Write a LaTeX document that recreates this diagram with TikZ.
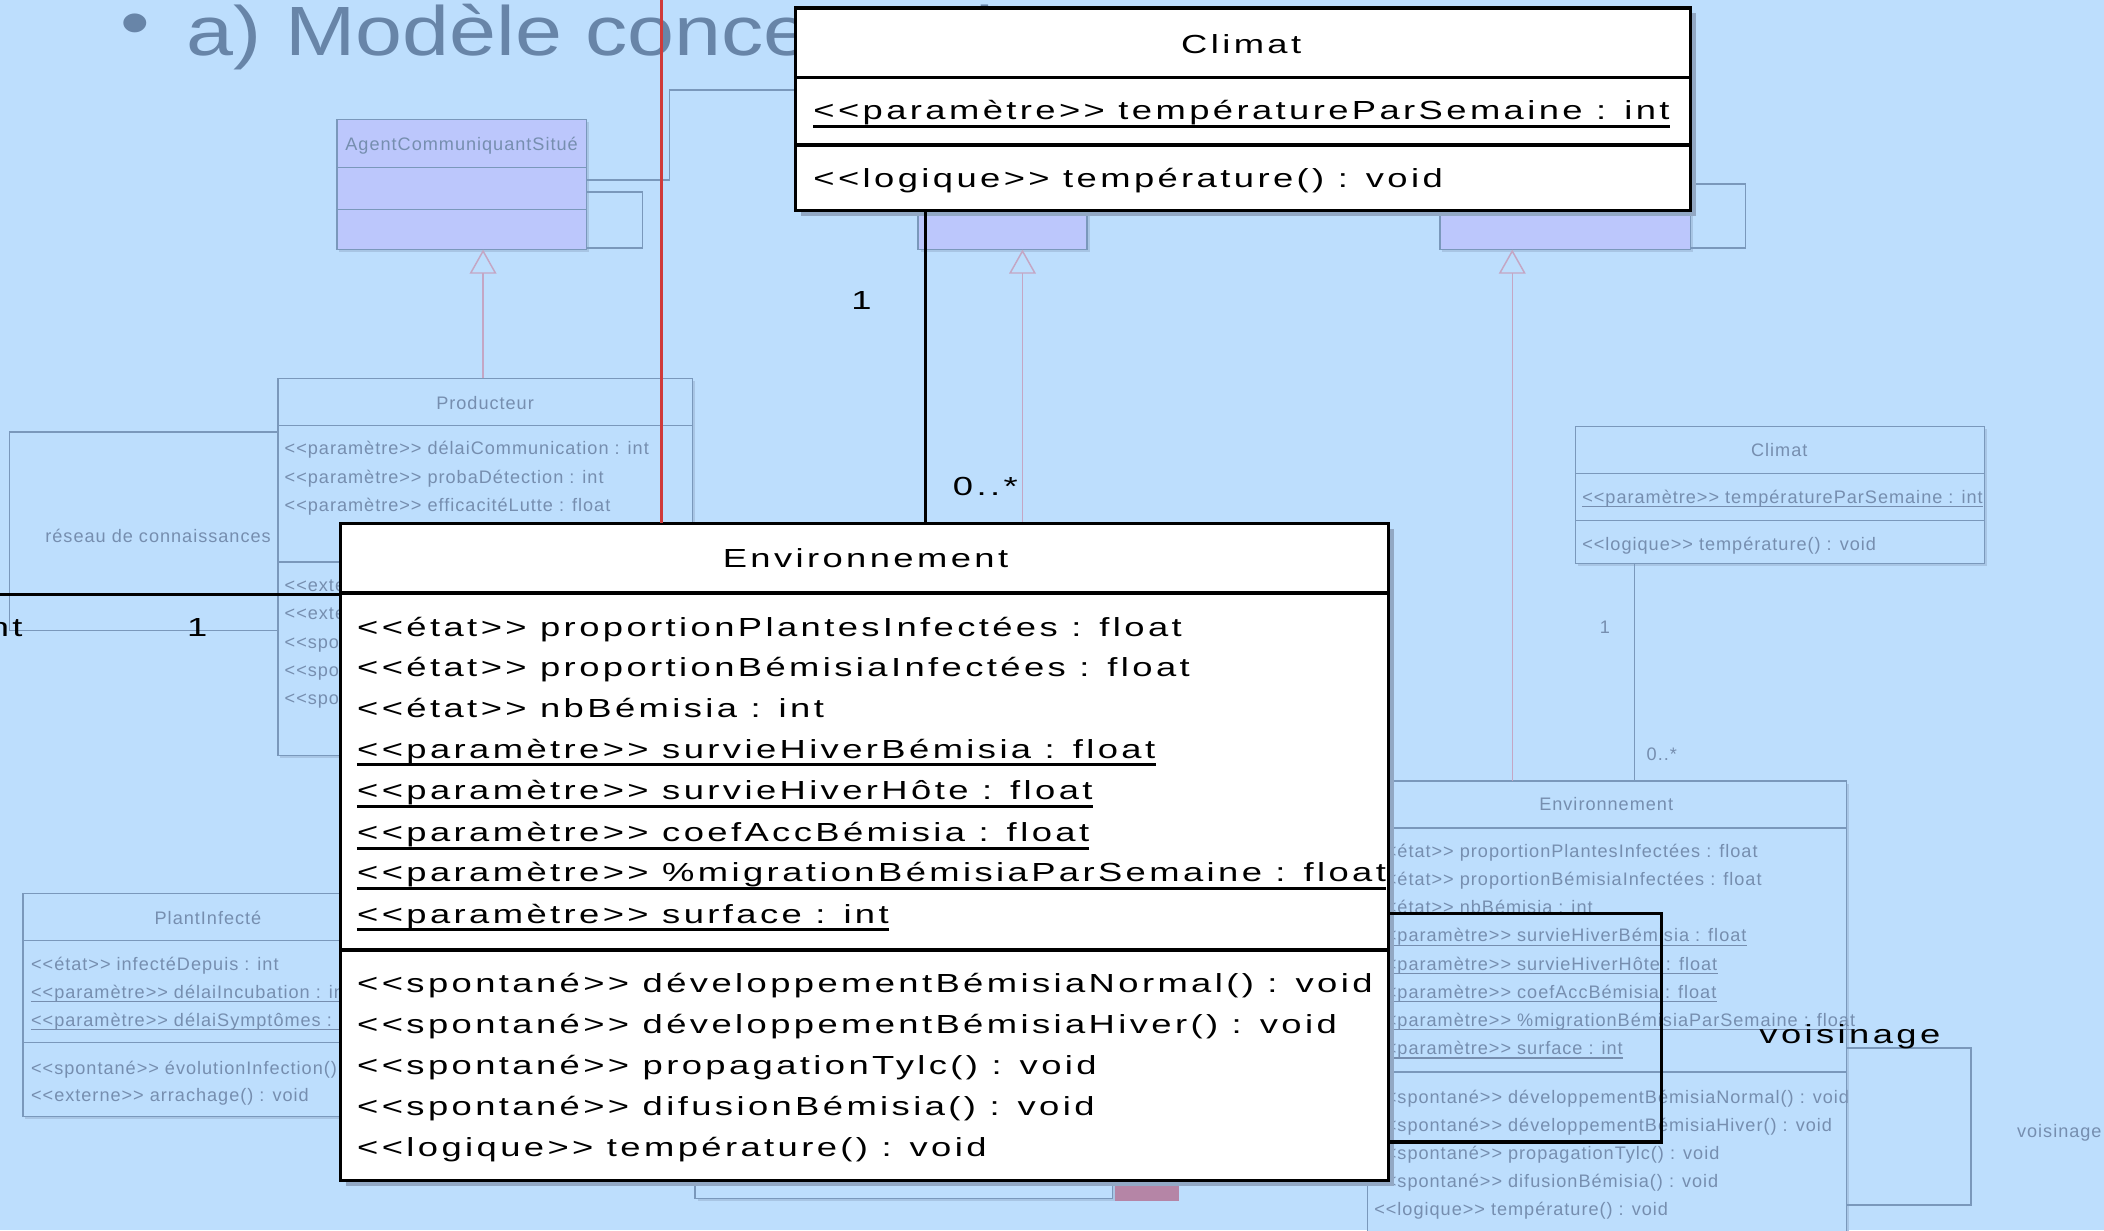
\documentclass[tikz,border=0pt]{standalone}
\usepackage{fontspec}
\setmainfont{Liberation Sans}
\newfontfamily\titlefont[FakeStretch=1.21]{Liberation Sans}
\newfontfamily\ovfont[FakeStretch=1.39,LetterSpace=13]{Liberation Sans}
\newfontfamily\fdfont[LetterSpace=5.5]{Liberation Sans}
\usetikzlibrary{calc,arrows.meta,shadows}

\definecolor{bgblue}{RGB}{189,222,253}
\definecolor{titlec}{RGB}{104,133,168}
\definecolor{fline}{RGB}{122,152,187}
\definecolor{ftext}{RGB}{118,142,175}
\definecolor{lavender}{RGB}{188,199,252}
\definecolor{genc}{RGB}{196,166,196}
\definecolor{fshadow}{RGB}{168,197,228}
\definecolor{oshadow}{RGB}{146,168,196}
\definecolor{redline}{RGB}{208,58,58}
\definecolor{pinkblk}{RGB}{181,133,166}

\tikzset{
  fbox/.style={draw=fline, fill=bgblue, line width=1.1pt, inner sep=0pt, outer sep=0pt,
    anchor=north west, rectangle,
    drop shadow={shadow xshift=2pt, shadow yshift=-2pt, fill=fshadow, opacity=1}},
  fsep/.style={draw=fline, line width=1.1pt},
  fconn/.style={draw=fline, line width=1.1pt},
  genline/.style={draw=genc, line width=1.1pt,
    -{Triangle[open, width=20pt, length=18pt, line width=1.1pt]}},
  ftxt/.style={inner sep=0pt, anchor=base west, text=ftext,
    font=\fdfont\fontsize{13.5}{14}\selectfont},
  ful/.style={draw=ftext, line width=0.9pt},
  fultxt/.style={ftxt, append after command={([yshift=-2.5pt]\tikzlastnode.base west)
    edge[ful] ([yshift=-2.5pt]\tikzlastnode.base east)}},
  obox/.style={draw=black, fill=white, line width=2.4pt, inner sep=0pt, outer sep=0pt,
    anchor=north west, rectangle,
    drop shadow={shadow xshift=4pt, shadow yshift=-4pt, fill=oshadow, opacity=1}},
  osep/.style={draw=black, line width=2.4pt},
  oconn/.style={draw=black, line width=2.4pt},
  redl/.style={draw=redline, line width=2.3pt},
  otxt/.style={inner sep=0pt, anchor=base west, text=black,
    font=\ovfont\fontsize{19.5}{20}\selectfont},
  oul/.style={draw=black, line width=2.2pt},
  oultxt/.style={otxt, append after command={([yshift=-5pt]\tikzlastnode.base west)
    edge[oul] ([yshift=-5pt]\tikzlastnode.base east)}},
  titletxt/.style={inner sep=0pt, text=titlec, font=\titlefont\fontsize{52}{52}\selectfont}
}

\begin{document}
\begin{tikzpicture}[x=1pt,y=-1pt]
\useasboundingbox (0,0) rectangle (1568,917);
\clip (0,0) rectangle (1568,917);
\fill[bgblue] (0,0) rectangle (1568,917);

% ---------- slide heading ----------
\node[titletxt, anchor=base] (bullet) at (101,35) {•};
\node[titletxt, anchor=base west] (title) at (139,41) {a) Modèle conceptuel};

% ---------- class diagram (background layer) ----------
% hidden source of the middle inheritance line
\coordinate (genmidsrc) at (762,395);

% classes
\node[fbox, fill=lavender, minimum width=186pt, minimum height=97pt] (agent) at (251,89) {};
\draw[fsep] ($(agent.north west)+(0,36)$) -- ($(agent.north east)+(0,36)$);
\draw[fsep] ($(agent.north west)+(0,67)$) -- ($(agent.north east)+(0,67)$);
\node[ftxt, anchor=base] (agentT) at (344,112) {AgentCommuniquantSitué};

\node[fbox, fill=lavender, minimum width=126pt, minimum height=86pt] (midbox) at (684,100) {};
\node[fbox, fill=lavender, minimum width=187pt, minimum height=86pt] (rbox) at (1073,100) {};

\node[fbox, minimum width=309pt, minimum height=281pt] (prod) at (207,282) {};
\draw[fsep] ($(prod.north west)+(0,35)$) -- ($(prod.north east)+(0,35)$);
\draw[fsep] ($(prod.north west)+(0,137)$) -- ($(prod.north east)+(0,137)$);
\node[ftxt, anchor=base] (prodT) at (361.5,305) {Producteur};
\node[ftxt] (prodA1) at (212,339) {<<paramètre>> délaiCommunication : int};
\node[ftxt] (prodA2) at (212,360) {<<paramètre>> probaDétection : int};
\node[ftxt] (prodA3) at (212,381) {<<paramètre>> efficacitéLutte : float};
\node[ftxt] (prodO1) at (212,441) {<<externe>>};
\node[ftxt] (prodO2) at (212,462) {<<externe>>};
\node[ftxt] (prodO3) at (212,483) {<<spontané>>};
\node[ftxt] (prodO4) at (212,504) {<<spontané>>};
\node[ftxt] (prodO5) at (212,525) {<<spontané>>};

\node[fbox, minimum width=300pt, minimum height=166pt] (plant) at (17,666) {};
\draw[fsep] ($(plant.north west)+(0,35)$) -- ($(plant.north east)+(0,35)$);
\draw[fsep] ($(plant.north west)+(0,111)$) -- ($(plant.north east)+(0,111)$);
\node[ftxt, anchor=base] (plantT) at (155,689) {PlantInfecté};
\node[ftxt] (plantA1) at (23,723) {<<état>> infectéDepuis : int};
\node[fultxt] (plantA2) at (23,744) {<<paramètre>> délaiIncubation : int};
\node[fultxt] (plantA3) at (23,765) {<<paramètre>> délaiSymptômes : int};
\node[ftxt] (plantO1) at (23,801) {<<spontané>> évolutionInfection() : void};
\node[ftxt] (plantO2) at (23,821) {<<externe>> arrachage() : void};

\fill[pinkblk] (756,880) rectangle (879,895);
\node[fbox, minimum width=311pt, minimum height=93pt] (botbox) at (518,800) {};

\node[fbox, minimum width=305pt, minimum height=102pt] (sclim) at (1174,318) {};
\draw[fsep] ($(sclim.north west)+(0,35)$) -- ($(sclim.north east)+(0,35)$);
\draw[fsep] ($(sclim.north west)+(0,70)$) -- ($(sclim.north east)+(0,70)$);
\node[ftxt, anchor=base] (sclimT) at (1326,340) {Climat};
\node[fultxt] (sclimA) at (1179,375) {<<paramètre>> températureParSemaine : int};
\node[ftxt] (sclimO) at (1179,410) {<<logique>> température() : void};

\node[fbox, minimum width=357pt, minimum height=400pt] (senv) at (1019,582) {};
\draw[fsep] ($(senv.north west)+(0,35)$) -- ($(senv.north east)+(0,35)$);
\draw[fsep] ($(senv.north west)+(0,217)$) -- ($(senv.north east)+(0,217)$);
\node[ftxt, anchor=base] (senvT) at (1197,604) {Environnement};
\node[ftxt] (senvA1) at (1024,639) {<<état>> proportionPlantesInfectées : float};
\node[ftxt] (senvA2) at (1024,660) {<<état>> proportionBémisiaInfectées : float};
\node[ftxt] (senvA3) at (1024,681) {<<état>> nbBémisia : int};
\node[fultxt] (senvA4) at (1024,702) {<<paramètre>> survieHiverBémisia : float};
\node[fultxt] (senvA5) at (1024,723) {<<paramètre>> survieHiverHôte : float};
\node[fultxt] (senvA6) at (1024,744) {<<paramètre>> coefAccBémisia : float};
\node[fultxt] (senvA7) at (1024,765) {<<paramètre>> \%migrationBémisiaParSemaine : float};
\node[fultxt] (senvA8) at (1024,786) {<<paramètre>> surface : int};
\node[ftxt] (senvO1) at (1024,822) {<<spontané>> développementBémisiaNormal() : void};
\node[ftxt] (senvO2) at (1024,843) {<<spontané>> développementBémisiaHiver() : void};
\node[ftxt] (senvO3) at (1024,864) {<<spontané>> propagationTylc() : void};
\node[ftxt] (senvO4) at (1024,885) {<<spontané>> difusionBémisia() : void};
\node[ftxt] (senvO5) at (1024,906) {<<logique>> température() : void};

% associations and inheritance (background layer)
\draw[fconn] ($(agent.north east)+(0,54)$) -- ++(42,0) |- ($(agent.north east)+(0,96)$);
\draw[fconn] ($(agent.north east)+(0,45)$) -- ++(62,0) |- ($(midbox.north west)+(0,-33)$);
\draw[fconn] ($(rbox.north east)+(0,37)$) -- ++(41,0) |- ($(rbox.north east)+(0,85)$);
\draw[fconn] ($(prod.north west)+(0,40)$) -- ++(-200,0) |- ($(prod.north west)+(0,188)$);
\node[ftxt, anchor=base east] (reseau) at (202,404) {réseau de connaissances};
\draw[fconn] ($(sclim.south west)+(44,0)$) -- ($(senv.north west)+(199,0)$);
\node[ftxt, anchor=base] (mult1) at (1196,472) {1};
\node[ftxt] (mult2) at (1227,567) {0..*};
\draw[fconn] ($(senv.north east)+(0,199)$) -- ++(93,0) |- ($(senv.north east)+(0,316)$);
\node[ftxt] (voisF) at (1503,848) {voisinage};

\draw[genline] ($(prod.north west)+(153,0)$) -- ($(agent.south west)+(109,0)$);
\draw[genline] (genmidsrc) -- ($(midbox.south west)+(78,0)$);
\draw[genline] ($(senv.north west)+(108,0)$) -- ($(rbox.south west)+(54,0)$);

% ---------- enlarged view (foreground layer) ----------
\coordinate (redtop) at (493,-5);
\coordinate (leftend) at (-5,443);

\node[obox, minimum width=667pt, minimum height=151pt] (climbox) at (593,6) {};
\draw[osep] ($(climbox.north west)+(0,52)$) -- ($(climbox.north east)+(0,52)$);
\draw[osep] ($(climbox.north west)+(0,102)$) -- ($(climbox.north east)+(0,102)$);
\node[otxt, anchor=base] (climT) at (925,40) {Climat};
\node[oultxt] (climA) at (606,89) {<<paramètre>> températureParSemaine : int};
\node[otxt] (climO) at (606,140) {<<logique>> température() : void};

\node[obox, minimum width=781pt, minimum height=490pt] (envbox) at (254,390) {};
\draw[osep] ($(envbox.north west)+(0,52)$) -- ($(envbox.north east)+(0,52)$);
\draw[osep] ($(envbox.north west)+(0,318)$) -- ($(envbox.north east)+(0,318)$);
\node[otxt, anchor=base] (envT) at (645,423) {Environnement};
\node[otxt] (envA1) at (266,474) {<<état>> proportionPlantesInfectées : float};
\node[otxt] (envA2) at (266,504) {<<état>> proportionBémisiaInfectées : float};
\node[otxt] (envA3) at (266,535) {<<état>> nbBémisia : int};
\node[oultxt] (envA4) at (266,565) {<<paramètre>> survieHiverBémisia : float};
\node[oultxt] (envA5) at (266,596) {<<paramètre>> survieHiverHôte : float};
\node[oultxt] (envA6) at (266,627) {<<paramètre>> coefAccBémisia : float};
\node[oultxt] (envA7) at (266,657) {<<paramètre>> \%migrationBémisiaParSemaine : float};
\node[oultxt] (envA8) at (266,688) {<<paramètre>> surface : int};
\node[otxt] (envO1) at (266,740) {<<spontané>> développementBémisiaNormal() : void};
\node[otxt] (envO2) at (266,770) {<<spontané>> développementBémisiaHiver() : void};
\node[otxt] (envO3) at (266,801) {<<spontané>> propagationTylc() : void};
\node[otxt] (envO4) at (266,831) {<<spontané>> difusionBémisia() : void};
\node[otxt] (envO5) at (266,862) {<<logique>> température() : void};

\draw[redl] (redtop) -- (redtop |- envbox.north);
\draw[oconn] ($(climbox.south west)+(97,0)$) -- ($(envbox.north west)+(436,0)$);
\node[otxt, anchor=base] (omult1) at (642,231) {1};
\node[otxt] (omult2) at (710,369) {0..*};
\draw[oconn] (leftend) -- (leftend -| envbox.west);
\node[otxt, anchor=base east] (onamecut) at (17,474) {nt};
\node[otxt, anchor=base] (omult3) at (147,474) {1};
\draw[oconn] ($(envbox.north east)+(0,291)$) -- ++(203,0) |- ($(envbox.north east)+(0,461)$);
\node[otxt] (ovois) at (1311,778) {voisinage};
\end{tikzpicture}
\end{document}
